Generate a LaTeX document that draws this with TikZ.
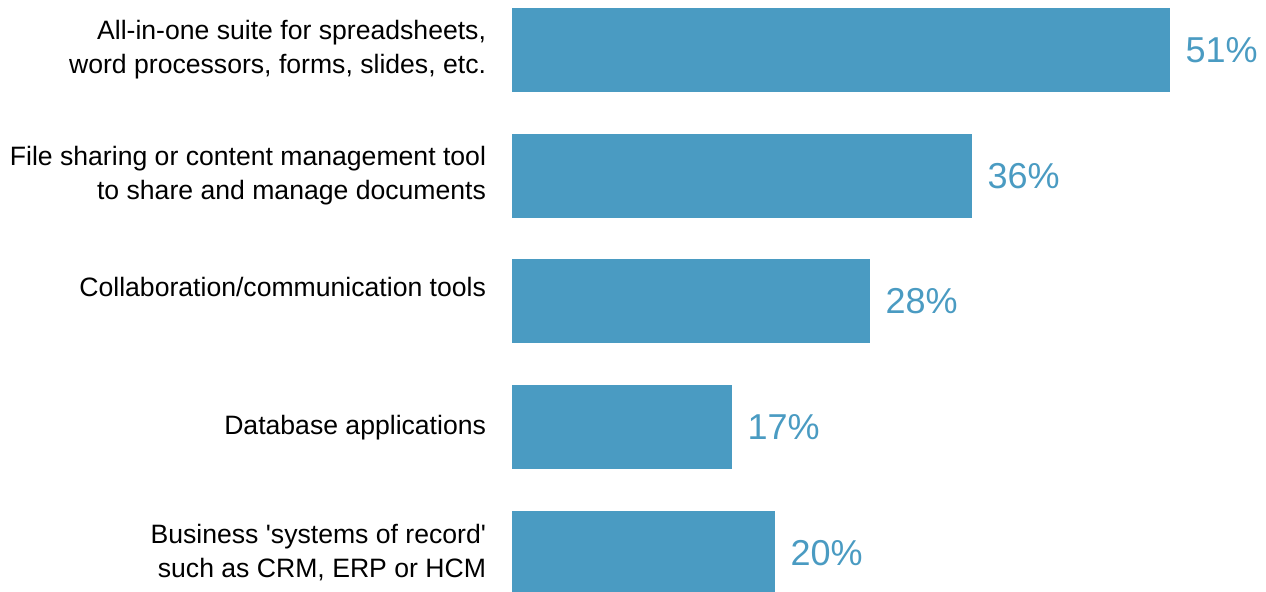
\documentclass[tikz,border=0pt]{standalone}
\usepackage{fontspec}
\setmainfont{Liberation Sans}
\usepackage{tikz}
\usetikzlibrary{positioning}
\definecolor{barblue}{RGB}{74,155,194}
\tikzstyle{Bar} = [rectangle,
                   minimum height=42pt,
                   inner sep=0pt,
                   outer sep=0pt,
                   draw=none,
                   fill=barblue]
\tikzstyle{Label} = [rectangle,
                     inner sep=0pt,
                     outer sep=0pt,
                     align=right,
                     text=black,
                     font=\fontsize{13.3pt}{17pt}\selectfont]
\tikzstyle{Pct} = [rectangle,
                   inner sep=0pt,
                   outer sep=0pt,
                   text=barblue,
                   font=\fontsize{18pt}{21pt}\selectfont]

\begin{document}
\begin{tikzpicture}
        \useasboundingbox (0,0) rectangle (633pt,-296pt);

        \node (Bar_1) [Bar, minimum width=329pt, anchor=north west] at (256pt,-4pt) {};
        \node (Bar_2) [Bar, minimum width=230pt, below=20.875pt of Bar_1.south west, anchor=north west] {};
        \node (Bar_3) [Bar, minimum width=179pt, below=20.875pt of Bar_2.south west, anchor=north west] {};
        \node (Bar_4) [Bar, minimum width=110pt, below=20.875pt of Bar_3.south west, anchor=north west] {};
        \node (Bar_5) [Bar, minimum width=131.5pt, below=20.875pt of Bar_4.south west, anchor=north west] {};

        \node (Pct_1) [Pct, right=7.75pt of Bar_1] {51\%};
        \node (Pct_2) [Pct, right=7.75pt of Bar_2] {36\%};
        \node (Pct_3) [Pct, right=7.75pt of Bar_3] {28\%};
        \node (Pct_4) [Pct, right=7.75pt of Bar_4] {17\%};
        \node (Pct_5) [Pct, right=7.75pt of Bar_5] {20\%};

        \node (Label_1) [Label, left=13pt of Bar_1] {All-in-one suite for spreadsheets,\\word processors, forms, slides, etc.};
        \node (Label_2) [Label, left=13pt of Bar_2] {File sharing or content management tool\\to share and manage documents};
        \node (Label_3) [Label, left=13pt of Bar_3, yshift=7.5pt] {Collaboration/communication tools};
        \node (Label_4) [Label, left=13pt of Bar_4] {Database applications};
        \node (Label_5) [Label, left=13pt of Bar_5] {Business \textquotesingle systems of record\textquotesingle\\such as CRM, ERP or HCM};
    \end{tikzpicture}
\end{document}
